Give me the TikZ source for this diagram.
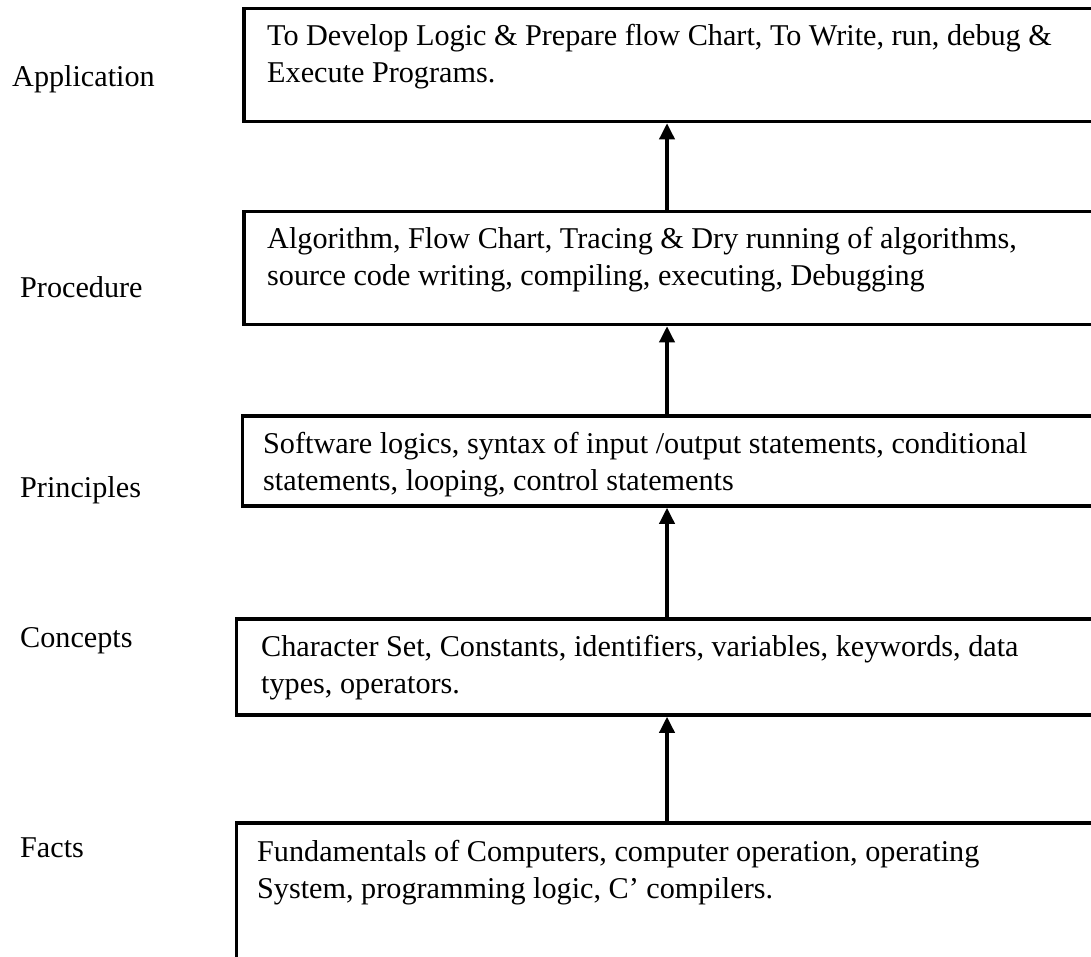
\documentclass[tikz,border=0pt]{standalone}
\usepackage{fontspec}
\setmainfont{Liberation Serif}
\usetikzlibrary{arrows.meta}
\begin{document}
\begin{tikzpicture}[x=1pt,y=-1pt,
  box/.style={draw, line width=3.5pt, rectangle, anchor=north west, inner sep=0pt, outer sep=0pt},
  txt/.style={anchor=north west, inner sep=0pt, align=left, font=\fontsize{30.2}{37}\selectfont},
  lbl/.style={anchor=base west, inner sep=0pt, font=\fontsize{30.2}{37}\selectfont},
  arr/.style={line width=3.5pt, -{Triangle[length=16pt,width=15pt]}, shorten >=1.75pt}]
\useasboundingbox (0,0) rectangle (1091,956);
\clip (0,0) rectangle (1091,956);
% boxes
\node[box, minimum width=866pt, minimum height=113pt] (b1) at (244,8.5) {};
\node[box, minimum width=866pt, minimum height=113pt] (b2) at (244,211.5) {};
\node[box, minimum width=868pt, minimum height=90pt] (b3) at (242.5,416) {};
\node[box, minimum width=874pt, minimum height=96pt] (b4) at (236.5,619) {};
\node[box, minimum width=874pt, minimum height=177pt] (b5) at (236.5,823) {};
% box texts
\node[txt] (t1) at (267,24.5) {To Develop Logic \& Prepare flow Chart, To Write, run, debug \&\\Execute Programs.};
\node[txt] (t2) at (267,227) {Algorithm, Flow Chart, Tracing \& Dry running of algorithms,\\source code writing, compiling, executing, Debugging};
\node[txt] (t3) at (263,432) {Software logics, syntax of input /output statements, conditional\\statements, looping, control statements};
\node[txt] (t4) at (261,635) {Character Set, Constants, identifiers, variables, keywords, data\\types, operators.};
\node[txt] (t5) at (257,840) {Fundamentals of Computers, computer operation, operating\\System, programming logic, C’ compilers.};
% labels
\node[lbl] (l1) at (12,86) {Application};
\node[lbl] (l2) at (20,297) {Procedure};
\node[lbl] (l3) at (20,497) {Principles};
\node[lbl] (l4) at (20,647) {Concepts};
\node[lbl] (l5) at (20,857) {Facts};
% arrows
\coordinate (ax) at (667,0);
\draw[arr] (b2.north -| ax) -- (b1.south -| ax);
\draw[arr] (b3.north -| ax) -- (b2.south -| ax);
\draw[arr] (b4.north -| ax) -- (b3.south -| ax);
\draw[arr] (b5.north -| ax) -- (b4.south -| ax);
\end{tikzpicture}
\end{document}
